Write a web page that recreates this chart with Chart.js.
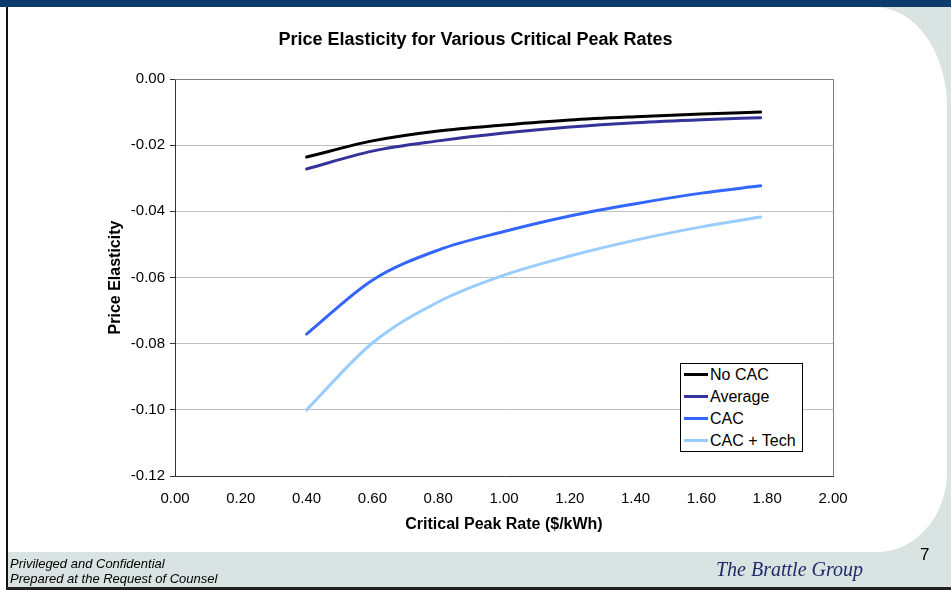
<!DOCTYPE html>
<html>
<head>
<meta charset="utf-8">
<script src="https://cdn.jsdelivr.net/npm/chart.js@4.4.0/dist/chart.umd.min.js"></script>
<style>
  html, body { margin: 0; padding: 0; }
  body { width: 951px; height: 590px; position: relative; overflow: hidden; background: #ffffff; font-family: "Liberation Sans", Arial, sans-serif; }
  .topbar { position: absolute; left: 0; top: 0; width: 951px; height: 7px; background: #0c3b6c; }
  .backdrop { position: absolute; left: 8px; top: 7px; right: 0; bottom: 3px; background: #d9e3e1; }
  .panel { position: absolute; left: 8px; top: 7px; width: 939px; height: 545px; background: #ffffff;
           border-top-right-radius: 72px 100px; border-bottom-right-radius: 70px 80px; }
  .leftrule { position: absolute; left: 6px; top: 7px; width: 2px; bottom: 0; background: #111111; }
  .bottomrule { position: absolute; left: 6px; right: 0; bottom: 0; height: 3px; background: #222222; }
  #chart { position: absolute; left: 0; top: 0; }
  .title { position: absolute; left: 0; width: 951px; top: 29px; text-align: center; font-weight: bold; font-size: 18px; color: #000; }
  .legend { position: absolute; left: 680px; top: 363px; width: 121px; height: 87px; border: 1px solid #000; background: #fff; }
  .legend .item { position: absolute; left: 3px; height: 22px; line-height: 22px; font-size: 16px; color: #000; white-space: nowrap; }
  .legend .swatch { display: inline-block; width: 24px; height: 3px; vertical-align: middle; margin-right: 2px; position: relative; top: -1px; }
  .foot { position: absolute; left: 10px; font-style: italic; font-size: 13px; color: #000; }
  .brand { position: absolute; left: 716px; top: 558px; font-family: "Liberation Serif", "Times New Roman", serif; font-style: italic; font-size: 20px; color: #1f2a6b; }
  .pageno { position: absolute; left: 920px; top: 545px; font-size: 17px; color: #000; }
</style>
</head>
<body>
<div class="topbar"></div>
<div class="backdrop"></div>
<div class="panel"></div>
<div class="leftrule"></div>
<div class="bottomrule"></div>
<canvas id="chart" width="951" height="590"></canvas>
<div class="title">Price Elasticity for Various Critical Peak Rates</div>
<div class="legend" id="legend"></div>
<div class="foot" style="top:556px">Privileged and Confidential</div>
<div class="foot" style="top:571px">Prepared at the Request of Counsel</div>
<div class="brand">The Brattle Group</div>
<div class="pageno">7</div>
<script>
// Critical peak rate ($/kWh) and elasticity by customer group
const rates       = [0.40, 0.60, 0.80, 1.00, 1.20, 1.40, 1.60, 1.78];
const noCac       = [-0.0236, -0.0187, -0.0157, -0.0139, -0.0124, -0.0114, -0.0106, -0.0100];
const average     = [-0.0272, -0.0218, -0.0187, -0.0163, -0.0145, -0.0132, -0.0123, -0.0117];
const cac         = [-0.0771, -0.0608, -0.0517, -0.0461, -0.0414, -0.0377, -0.0345, -0.0323];
const cacTech     = [-0.1000, -0.0798, -0.0674, -0.0593, -0.0535, -0.0487, -0.0447, -0.0417];
const seriesNames = ['No CAC', 'Average', 'CAC', 'CAC + Tech'];
const seriesColors = ['#000000', '#333399', '#3366ff', '#99ccff'];
const xTicks = [0, 0.2, 0.4, 0.6, 0.8, 1.0, 1.2, 1.4, 1.6, 1.8, 2.0];
const yTicks = [0, -0.02, -0.04, -0.06, -0.08, -0.10, -0.12];

const seriesValues = [noCac, average, cac, cacTech];
const datasets = seriesValues.map((vals, i) => ({
  label: seriesNames[i],
  data: rates.map((r, j) => ({ x: r, y: vals[j] })),
  borderColor: seriesColors[i],
  backgroundColor: seriesColors[i],
  borderWidth: 3,
  pointRadius: 0,
  fill: false,
  cubicInterpolationMode: 'monotone',
  borderCapStyle: 'round'
}));

// top and right edges of the plot frame
const plotFrame = {
  id: 'plotFrame',
  beforeDatasetsDraw(chart) {
    const { ctx, chartArea: a } = chart;
    ctx.save();
    ctx.strokeStyle = '#808080';
    ctx.lineWidth = 1;
    ctx.beginPath();
    ctx.moveTo(a.left, a.top + 0.5);
    ctx.lineTo(a.right + 0.5, a.top + 0.5);
    ctx.lineTo(a.right + 0.5, a.bottom);
    ctx.stroke();
    ctx.restore();
  }
};

const tickFont = { family: '"Liberation Sans", Arial, sans-serif', size: 15 };
const titleFont = { family: '"Liberation Sans", Arial, sans-serif', size: 16, weight: 'bold' };

const chart = new Chart(document.getElementById('chart'), {
  type: 'line',
  data: { datasets },
  options: {
    responsive: false,
    animation: false,
    layout: { padding: { left: 102, top: 79, right: 118, bottom: 52 } },
    plugins: { legend: { display: false }, title: { display: false }, tooltip: { enabled: false } },
    scales: {
      x: {
        type: 'linear', min: 0, max: 2,
        afterBuildTicks: s => { s.ticks = xTicks.map(v => ({ value: v })); },
        afterFit: s => { s.height = 62; },
        ticks: { color: '#000', font: tickFont, padding: 14, maxRotation: 0, callback: v => v.toFixed(2) },
        grid: { display: false, drawTicks: false },
        border: { color: '#333333', width: 1 },
        title: { display: true, text: 'Critical Peak Rate ($/kWh)', color: '#000', font: titleFont, padding: 4 }
      },
      y: {
        type: 'linear', min: -0.12, max: 0,
        afterBuildTicks: s => { s.ticks = yTicks.map(v => ({ value: v })); },
        afterFit: s => { s.width = 73; },
        ticks: { color: '#000', font: tickFont, padding: 5, callback: v => (Math.abs(v) < 1e-9 ? 0 : v).toFixed(2) },
        grid: { color: '#c0c0c0', lineWidth: 1, tickColor: '#333333', tickLength: 5, drawTicks: true },
        border: { color: '#333333', width: 1 },
        title: { display: true, text: 'Price Elasticity', color: '#000', font: titleFont, padding: 4 }
      }
    }
  },
  plugins: [plotFrame]
});

// legend built from the chart's datasets
const legendEl = document.getElementById('legend');
chart.data.datasets.forEach((ds, i) => {
  const item = document.createElement('div');
  item.className = 'item';
  item.style.top = (i * 22) + 'px';
  const sw = document.createElement('span');
  sw.className = 'swatch';
  sw.style.background = ds.borderColor;
  item.appendChild(sw);
  item.appendChild(document.createTextNode(ds.label));
  legendEl.appendChild(item);
});
</script>
</body>
</html>
